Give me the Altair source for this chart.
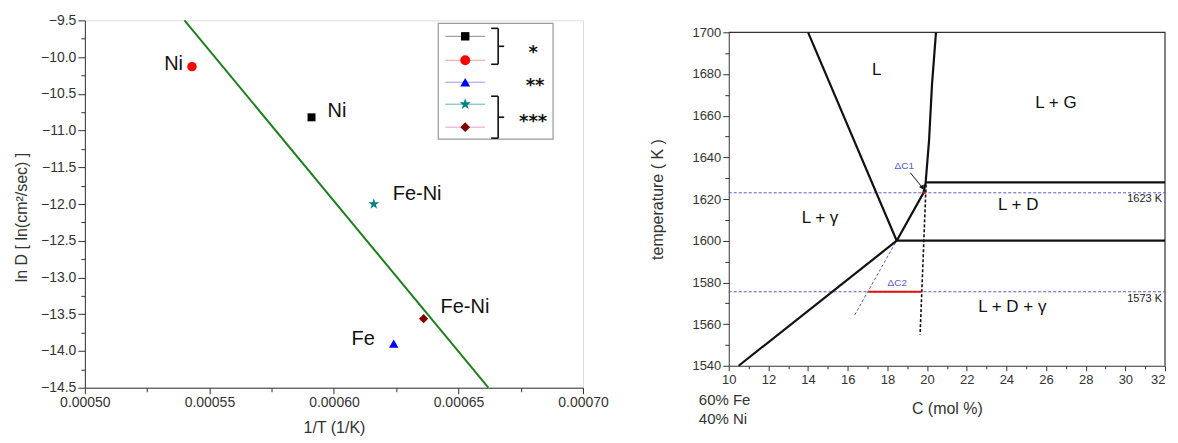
import altair as alt
import pandas as pd

# ---------------- Left panel data ----------------
pt_series = ["s1", "s2", "s3", "s4", "s5"]
pt_x = [0.000591, 0.000543, 0.000624, 0.000616, 0.000636]
pt_y = [-10.82, -10.13, -13.90, -12.00, -13.56]
pt_labels = ["Ni", "Ni", "Fe", "Fe-Ni", "Fe-Ni"]
pt_colors = ["#000000", "#ff0000", "#0000ff", "#008080", "#800000"]
legend_groups = ["*", "**", "***"]
fit_x = [0.000540, 0.000662]
fit_y = [-9.5, -14.5]

left_x_ticks = [0.0005, 0.000525, 0.00055, 0.000575, 0.0006, 0.000625, 0.00065, 0.000675, 0.0007]
left_y_ticks = [-14.5, -14.25, -14.0, -13.75, -13.5, -13.25, -13.0, -12.75, -12.5, -12.25, -12.0,
                -11.75, -11.5, -11.25, -11.0, -10.75, -10.5, -10.25, -10.0, -9.75, -9.5]

# ---------------- Right panel data ----------------
solid_lines = {
    "liq_gamma": ([14.0, 18.47], [1700, 1600]),
    "liq_D": ([18.47, 19.82, 19.93, 20.1, 20.25, 20.45], [1600, 1623, 1628, 1648, 1675, 1700]),
    "sol_gamma": ([10.5, 18.47], [1540, 1600]),
    "iso_1628": ([19.93, 32.0], [1628, 1628]),
    "iso_1600": ([18.47, 32.0], [1600, 1600]),
}
frame_c = [10.0, 32.0, 32.0]
frame_t = [1700, 1700, 1540]
dashed_black = ([19.95, 19.65], [1627, 1555])
blue_dotted = {
    "h1623": ([10.0, 32.0], [1623, 1623]),
    "h1573": ([10.0, 32.0], [1575.5, 1575.5]),
    "slant": ([18.4, 16.3], [1599, 1563.5]),
}
red_segments = {
    "dc2": ([17.03, 19.72], [1575.5, 1575.5]),
    "dc1": ([19.8, 19.93], [1623, 1623]),
}
arrow_c = [19.16, 19.77]
arrow_t = [1632.6, 1625.4]
region_text = ["L", "L + G", "L + \u03b3", "L + D", "L + D + \u03b3"]
region_c = [17.46, 26.5, 14.6, 24.6, 24.3]
region_t = [1682, 1666, 1611, 1617, 1568]
delta_text = ["\u0394C1", "\u0394C2"]
delta_c = [18.85, 18.5]
delta_t = [1636, 1579.5]
iso_text = ["1623 K", "1573 K"]
iso_c = [31.85, 31.85]
iso_t = [1620, 1572]
right_x_ticks = list(range(10, 33))
right_y_ticks = list(range(1540, 1701, 10))

FONT = "Liberation Sans"
AX = "#333333"

# ---------------- Left panel ----------------
LW, LH = 499, 368
xs_left = alt.Scale(domain=[0.0005, 0.0007], nice=False, zero=False)
ys_left = alt.Scale(domain=[-14.5, -9.5], nice=False, zero=False)
x_major = "abs(datum.value / 0.00005 - round(datum.value / 0.00005)) < 0.01"
y_major = "abs(datum.value * 2 - round(datum.value * 2)) < 0.01"
xaxis_left = alt.Axis(values=left_x_ticks, title="1/T (1/K)", format=".5f",
                      labelExpr=f"({x_major}) ? datum.label : ''",
                      tickSize={"condition": {"test": x_major, "value": 6}, "value": 4},
                      grid=False, labelFontSize=14, titleFontSize=16, labelPadding=2,
                      titlePadding=10, domainColor=AX, tickColor=AX, labelColor=AX, titleColor=AX,
                      labelFont=FONT, titleFont=FONT, titleFontWeight="normal", labelFlush=False)
yaxis_left = alt.Axis(values=left_y_ticks, title="ln D [ ln(cm\u00b2/sec) ]", format=".1f",
                      labelExpr=f"({y_major}) ? datum.label : ''",
                      tickSize={"condition": {"test": y_major, "value": 7}, "value": 4},
                      grid=False, labelFontSize=14, titleFontSize=16, labelPadding=2,
                      titlePadding=11, titleY=197, domainColor=AX, tickColor=AX, labelColor=AX,
                      titleColor=AX, labelFont=FONT, titleFont=FONT, titleFontWeight="normal",
                      labelFlush=False)
xl = alt.X("x:Q", scale=xs_left, axis=xaxis_left)
yl = alt.Y("y:Q", scale=ys_left, axis=yaxis_left)

STAR = ("M0,-1L0.2245,-0.309L0.951,-0.309L0.363,0.118L0.588,0.809L0,0.382"
        "L-0.588,0.809L-0.363,0.118L-0.951,-0.309L-0.2245,-0.309Z")
shapes = ["square", "circle", "triangle-up", STAR, "diamond"]
sizes = [64, 90, 90, 130, 85]
legend_line_colors = ["#888888", "#ff9999", "#9999ff", "#66b3b3", "#e0a0d0"]
label_style = [  # (align, dx, dy)
    ("left", 16, -6),
    ("right", -9, -3),
    ("right", -19, -5),
    ("left", 19, -10),
    ("left", 17, -12),
]

pts = pd.DataFrame({"series": pt_series, "x": pt_x, "y": pt_y, "label": pt_labels})
fit = pd.DataFrame({"x": fit_x, "y": fit_y})
one = pd.DataFrame({"k": [0]})

left_layers = [
    alt.Chart(fit).mark_line(color="#1f7f1f", strokeWidth=2).encode(x=xl, y=yl)
]
for i, s in enumerate(pt_series):
    d = pts[pts.series == s]
    left_layers.append(
        alt.Chart(d).mark_point(shape=shapes[i], filled=True, opacity=1, color=pt_colors[i],
                                size=sizes[i]).encode(x=xl, y=yl))
    al, dx, dy = label_style[i]
    left_layers.append(
        alt.Chart(d).mark_text(align=al, baseline="middle", dx=dx, dy=dy, fontSize=20,
                               font=FONT, color="#111111").encode(x=xl, y=yl, text="label:N"))

# custom legend (pixel positions inside plot)
LEG_BOX = (354, 469, 3, 119)
LEG_ROWS = [16, 40, 62, 84, 107]
left_layers.append(
    alt.Chart(one).mark_rect(fill="white", stroke="#999999", strokeWidth=1.2).encode(
        x=alt.value(LEG_BOX[0]), x2=alt.value(LEG_BOX[1]),
        y=alt.value(LEG_BOX[2]), y2=alt.value(LEG_BOX[3])))
for i, s in enumerate(pt_series):
    ry = LEG_ROWS[i]
    left_layers.append(
        alt.Chart(one).mark_rule(color=legend_line_colors[i], strokeWidth=1).encode(
            x=alt.value(361), x2=alt.value(401), y=alt.value(ry)))
    left_layers.append(
        alt.Chart(one).mark_point(shape=shapes[i], filled=True, opacity=1, color=pt_colors[i],
                                  size=sizes[i] * 1.1).encode(x=alt.value(381), y=alt.value(ry)))
BRACES = [(8, 26, 44), (76, 97, 118)]
for top, mid, bot in BRACES:
    for (x1, x2, y1, y2) in [(414, 414, top, bot), (407, 414, top, top), (407, 414, bot, bot),
                             (414, 420, mid, mid)]:
        left_layers.append(
            alt.Chart(one).mark_rule(color="#111111", strokeWidth=1.6).encode(
                x=alt.value(x1), x2=alt.value(x2), y=alt.value(y1), y2=alt.value(y2)))
AST_POS = [(449, 29), (451, 62), (449, 98)]
for txt, (ax, ay) in zip(legend_groups, AST_POS):
    left_layers.append(
        alt.Chart(one).mark_text(text=txt, fontSize=18, font="DejaVu Sans", fontWeight="bold",
                                 align="center", baseline="middle", dy=4, color="#111111").encode(
            x=alt.value(ax), y=alt.value(ay)))

left = alt.layer(*left_layers).properties(width=LW, height=LH)

# ---------------- Right panel ----------------
RW = 437
TOP_GAP = 12          # right plot starts lower than the left one
RH = 334 + TOP_GAP
xs_r = alt.Scale(domain=[10, 32], nice=False, zero=False)
ys_r = alt.Scale(domain=[1540, 1700], nice=False, zero=False, range=[RH, TOP_GAP])
rx_major = "datum.value % 2 === 0"
ry_major = "datum.value % 20 === 0"
xaxis_r = alt.Axis(values=right_x_ticks, title="C (mol %)", format="d",
                   labelExpr=f"({rx_major}) ? datum.label : ''",
                   labelAlign={"condition": {"test": "datum.value === 32", "value": "right"},
                               "value": "center"},
                   tickSize={"condition": {"test": rx_major, "value": 5}, "value": 3},
                   grid=False, labelFontSize=13, titleFontSize=16, labelPadding=3,
                   titlePadding=14, domainColor=AX, tickColor=AX, labelColor=AX, titleColor=AX,
                   labelFont=FONT, titleFont=FONT, titleFontWeight="normal", labelFlush=False)
yaxis_r = alt.Axis(values=right_y_ticks, title="temperature ( K )", format="d",
                   labelExpr=f"({ry_major}) ? datum.label : ''",
                   tickSize={"condition": {"test": ry_major, "value": 6}, "value": 4},
                   grid=False, labelFontSize=13, titleFontSize=16, labelPadding=2,
                   titlePadding=26, domainColor=AX, tickColor=AX, labelColor=AX, titleColor=AX,
                   labelFont=FONT, titleFont=FONT, titleFontWeight="normal", labelFlush=False)
xr = alt.X("c:Q", scale=xs_r, axis=xaxis_r)
yr = alt.Y("t:Q", scale=ys_r, axis=yaxis_r)


def lines_df(d):
    rows = []
    for name, (cs, ts) in d.items():
        for k, (c, t) in enumerate(zip(cs, ts)):
            rows.append({"line": name, "order": k, "c": c, "t": t})
    return pd.DataFrame(rows)


solid_df = lines_df(solid_lines)
frame_df = lines_df({"frame": (frame_c, frame_t)})
dash_df = lines_df({"d": dashed_black})
blue_df = lines_df(blue_dotted)
red_df = lines_df(red_segments)
arrow_df = pd.DataFrame({"c": arrow_c, "t": arrow_t, "order": [0, 1]})
region_df = pd.DataFrame({"c": region_c, "t": region_t, "text": region_text})
delta_df = pd.DataFrame({"c": delta_c, "t": delta_t, "text": delta_text})
iso_df = pd.DataFrame({"c": iso_c, "t": iso_t, "text": iso_text})

right_layers = [
    alt.Chart(frame_df).mark_line(color="#333333", strokeWidth=1.2).encode(
        x=xr, y=yr, order="order:Q"),
    alt.Chart(blue_df).mark_line(color="#5a5ac8", strokeWidth=1, strokeDash=[3, 2]).encode(
        x=xr, y=yr, detail="line:N", order="order:Q"),
    alt.Chart(solid_df).mark_line(color="#111111", strokeWidth=2.2).encode(
        x=xr, y=yr, detail="line:N", order="order:Q"),
    alt.Chart(dash_df).mark_line(color="#111111", strokeWidth=1.6, strokeDash=[3, 2]).encode(
        x=xr, y=yr, order="order:Q"),
    alt.Chart(red_df).mark_line(color="#e01010", strokeWidth=2.2).encode(
        x=xr, y=yr, detail="line:N", order="order:Q"),
    alt.Chart(arrow_df).mark_line(color="#111111", strokeWidth=1).encode(
        x=xr, y=yr, order="order:Q"),
    alt.Chart(arrow_df.iloc[[1]]).mark_point(shape="triangle-down", filled=True, opacity=1,
                                             color="#111111", size=30, angle=331).encode(
        x=xr, y=yr),
    alt.Chart(region_df).mark_text(fontSize=17, font=FONT, color="#111111").encode(
        x=xr, y=yr, text="text:N"),
    alt.Chart(delta_df).mark_text(fontSize=10, font=FONT, color="#5a5ac8").encode(
        x=xr, y=yr, text="text:N"),
    alt.Chart(iso_df).mark_text(fontSize=11, font=FONT, color="#222222", align="right").encode(
        x=xr, y=yr, text="text:N"),
    alt.Chart(one).mark_text(text="60% Fe", fontSize=15, font=FONT, align="left",
                             baseline="middle", color=AX).encode(
        x=alt.value(-30), y=alt.value(368 + TOP_GAP)),
    alt.Chart(one).mark_text(text="40% Ni", fontSize=15, font=FONT, align="left",
                             baseline="middle", color=AX).encode(
        x=alt.value(-30), y=alt.value(387 + TOP_GAP)),
]
right = alt.layer(*right_layers).properties(
    width=RW, height=RH, view=alt.ViewBackground(stroke="transparent"))

chart = alt.hconcat(left, right, spacing=40).properties(
    padding={"left": 5, "top": 4, "right": 0, "bottom": 0}
).configure_view(stroke="#333333", strokeWidth=1.2).configure(font=FONT, background="white")

chart.save("out.html", embed_options={"renderer": "svg", "actions": False})
